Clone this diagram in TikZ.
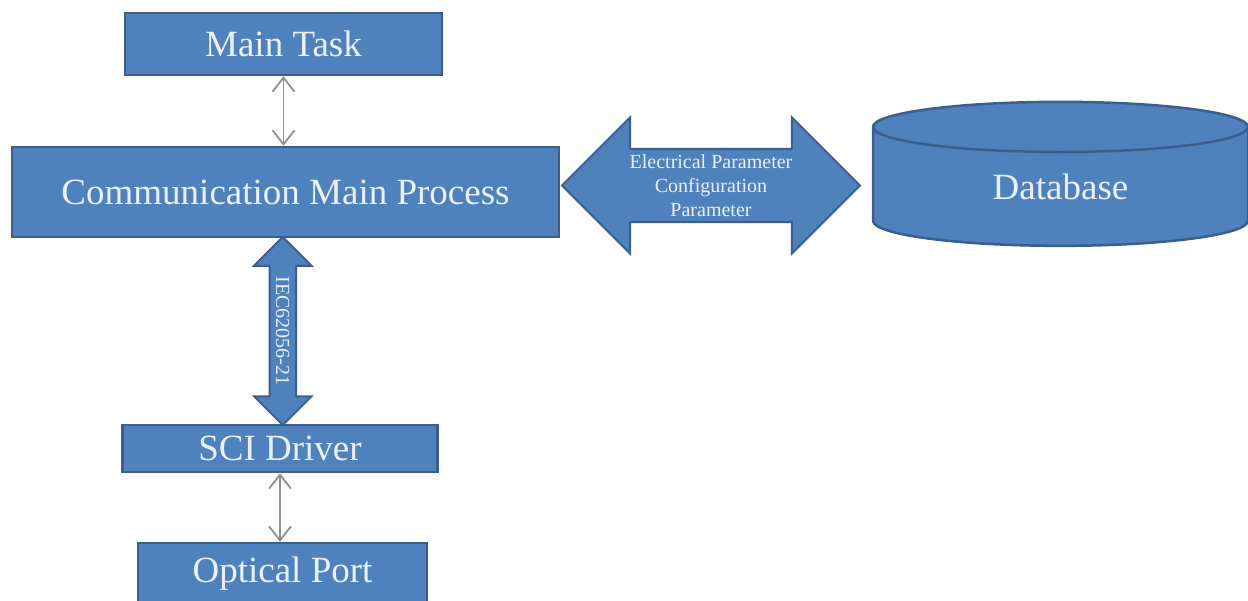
\documentclass[tikz,border=0pt]{standalone}
\usepackage{fontspec}
\setmainfont{Liberation Serif}
\usetikzlibrary{calc}
\usetikzlibrary{arrows.meta}
\usetikzlibrary{shapes.geometric,shapes.arrows}

\definecolor{boxblue}{HTML}{4F81BD}
\definecolor{boxedge}{HTML}{3B5F8C}
\definecolor{boxtext}{HTML}{EAF1FA}
\definecolor{linkgray}{HTML}{909090}

\tikzset{
  block/.style={rectangle, fill=boxblue, draw=boxedge, line width=2.5pt,
    text=boxtext, inner sep=0pt, font=\fontsize{37}{40}\selectfont},
  bigarrow/.style={double arrow, fill=boxblue, draw=boxedge, line width=2pt,
    text=boxtext, double arrow tip angle=90, double arrow head indent=0pt,
    inner xsep=0pt},
  link/.style={linkgray, line width=1.8pt,
    {Straight Barb[length=14pt,width=22pt]}-{Straight Barb[length=14pt,width=22pt]}}
}

\begin{document}
\begin{tikzpicture}[x=1pt,y=-1pt]
	\useasboundingbox (0,0) rectangle (1248,600);
	\clip (0,0) rectangle (1248,600);

	\node[block, minimum width=317pt, minimum height=62pt] (maintask) at (283.5,44) {Main Task};
	\node[block, minimum width=547pt, minimum height=90pt] (commproc) at (285.5,192) {Communication Main Process};
	\node[block, minimum width=315pt, minimum height=47pt] (scidrv) at (280,448.5) {SCI Driver};
	\node[block, minimum width=289pt, minimum height=62pt] (optport) at (282.5,574) {Optical Port};
	\node[block, cylinder, shape border rotate=90, aspect=0.37,
	      minimum width=375pt, minimum height=144pt] (database) at (1060.5,187) {Database};

	\draw[link] (maintask.south) -- (maintask.south |- commproc.north);
	\draw[link] (scidrv.south) -- (scidrv.south |- optport.north);

	\node[bigarrow, minimum height=298pt, double arrow head extend=31.5pt, inner ysep=4.5pt,
	      align=center, font=\fontsize{20}{24}\selectfont] (paramarrow) at (711,185.5)
	      {Electrical Parameter\\Configuration\\Parameter};
	\node[bigarrow, rotate=-90, minimum height=188pt, double arrow head extend=15.5pt, inner ysep=5.5pt,
	      font=\fontsize{20}{22}\selectfont] (iecarrow) at ($(commproc.south)!0.5!(scidrv.north)$) {IEC62056-21};
\end{tikzpicture}
\end{document}
